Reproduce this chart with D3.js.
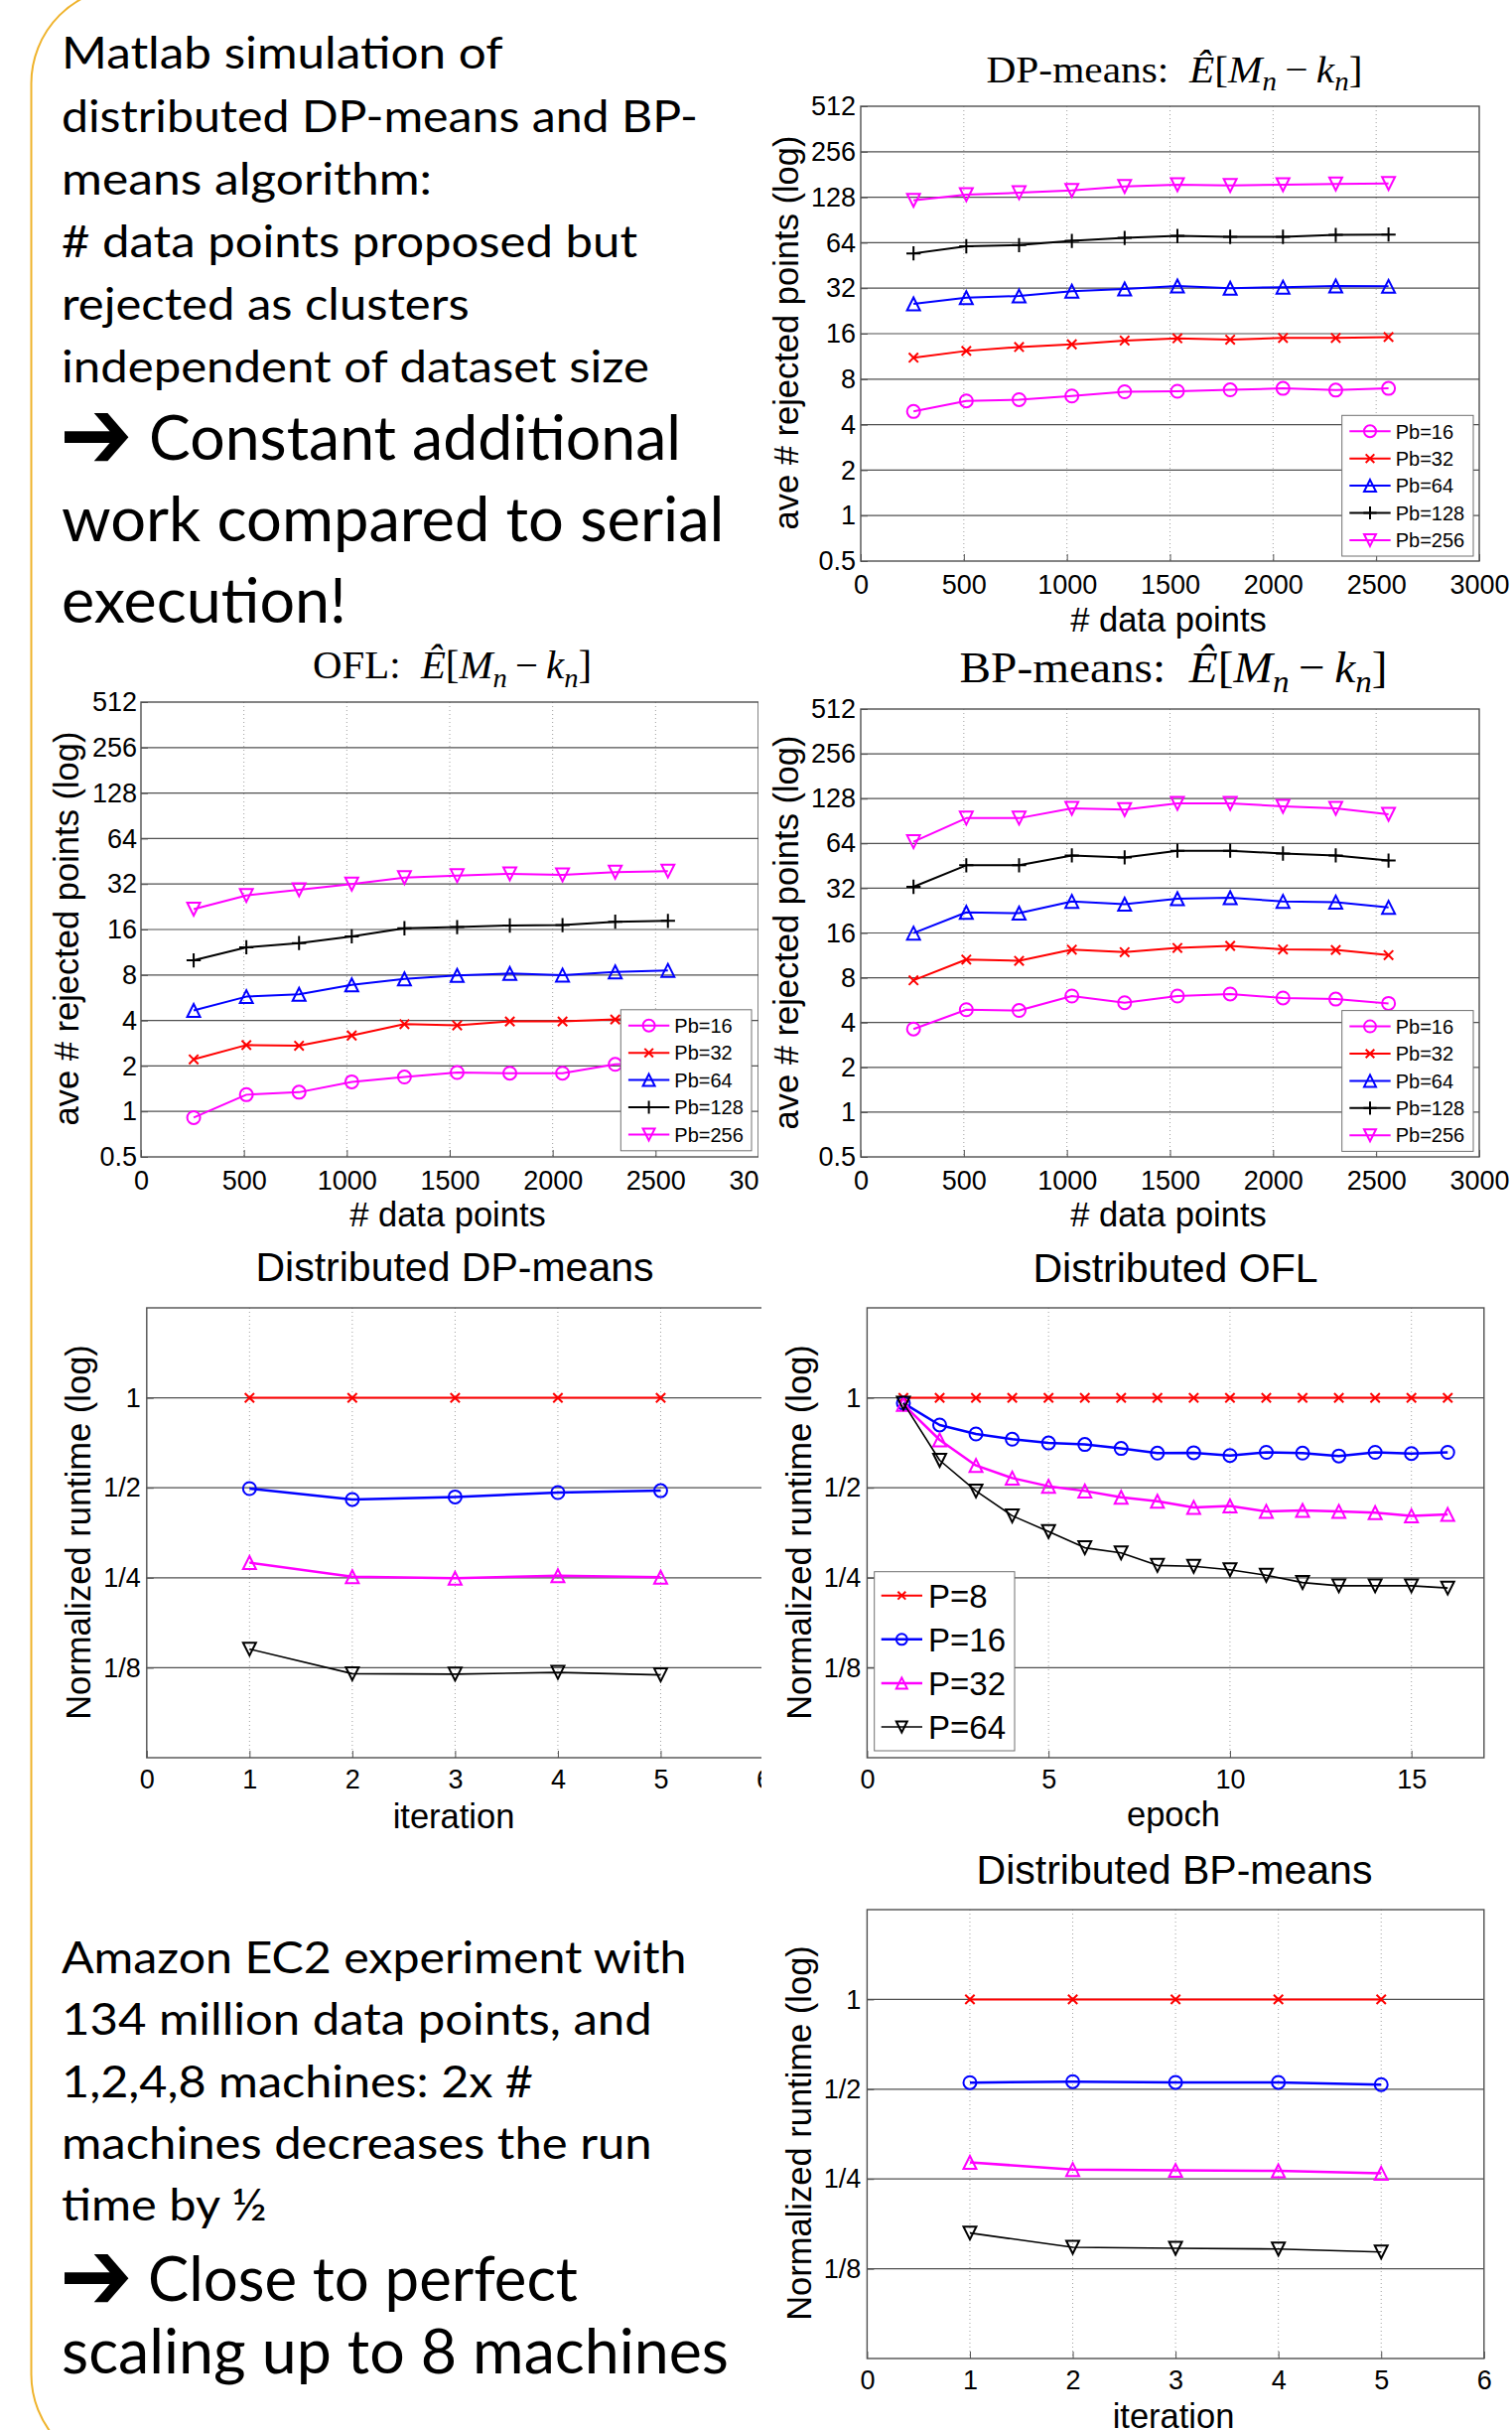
<!DOCTYPE html>
<html>
<head>
<meta charset="utf-8">
<script src="https://cdn.jsdelivr.net/npm/d3@7"></script>
<style>
body { margin: 0; background: #fff; }
svg { display: block; }
</style>
</head>
<body>
<div id="chart"></div>
<script>
// ---- data: rejected points vs dataset size ----
var nPoints = [256, 512, 768, 1024, 1280, 1536, 1792, 2048, 2304, 2560];
var pbNames = ["Pb=16", "Pb=32", "Pb=64", "Pb=128", "Pb=256"];

var dpPb16  = [4.89, 5.74, 5.85, 6.19, 6.6, 6.65, 6.8, 6.95, 6.77, 6.95];
var dpPb32  = [11.1, 12.3, 13.05, 13.6, 14.4, 14.9, 14.6, 15.0, 15.0, 15.2];
var dpPb64  = [25.2, 27.7, 28.4, 30.6, 31.6, 33.1, 32.0, 32.5, 33.1, 32.9];
var dpPb128 = [54.4, 60.6, 61.7, 65.8, 68.8, 71.0, 70.0, 70.0, 72.0, 72.5];
var dpPb256 = [122, 133, 137, 142, 151, 155, 153, 155, 156.6, 158];

var oflPb16  = [0.91, 1.29, 1.34, 1.57, 1.69, 1.81, 1.79, 1.79, 2.05, 2.1];
var oflPb32  = [2.21, 2.75, 2.72, 3.18, 3.78, 3.71, 3.94, 3.94, 4.06, 4.11];
var oflPb64  = [4.66, 5.75, 5.96, 6.88, 7.53, 7.94, 8.18, 7.99, 8.38, 8.58];
var oflPb128 = [10.0, 12.2, 13.0, 14.4, 16.3, 16.6, 17.0, 17.1, 18.0, 18.25];
var oflPb256 = [21.8, 26.9, 29.3, 32.0, 35.3, 36.3, 37.4, 36.8, 38.4, 39.0];

var bpPb16  = [3.62, 4.88, 4.82, 6.03, 5.44, 6.03, 6.22, 5.85, 5.75, 5.38];
var bpPb32  = [7.69, 10.6, 10.4, 12.36, 11.9, 12.7, 13.1, 12.4, 12.3, 11.35];
var bpPb64  = [15.96, 22.0, 21.75, 26.1, 25.0, 27.2, 27.6, 26.1, 25.8, 23.8];
var bpPb128 = [32.7, 45.6, 45.6, 53.1, 51.5, 57.1, 57.1, 54.7, 53.1, 49.1];
var bpPb256 = [65.7, 94.6, 94.6, 110, 108, 119, 119, 113.5, 110, 100.5];

// ---- data: normalized runtime ----
var pNames = ["P=8", "P=16", "P=32", "P=64"];
var iterations = [1, 2, 3, 4, 5];
var epochs = [1, 2, 3, 4, 5, 6, 7, 8, 9, 10, 11, 12, 13, 14, 15, 16];

var dpRunP8  = [1, 1, 1, 1, 1];
var dpRunP16 = [0.497, 0.457, 0.466, 0.482, 0.489];
var dpRunP32 = [0.281, 0.252, 0.249, 0.254, 0.251];
var dpRunP64 = [0.1443, 0.1194, 0.119, 0.1206, 0.1183];

var oflRunP8  = [1, 1, 1, 1, 1, 1, 1, 1, 1, 1, 1, 1, 1, 1, 1, 1];
var oflRunP16 = [0.96, 0.811, 0.757, 0.727, 0.706, 0.698, 0.677, 0.653, 0.655, 0.641, 0.657, 0.653, 0.639, 0.657, 0.651, 0.657];
var oflRunP32 = [0.95, 0.723, 0.594, 0.539, 0.506, 0.488, 0.465, 0.451, 0.430, 0.435, 0.417, 0.420, 0.417, 0.413, 0.403, 0.407];
var oflRunP64 = [0.96, 0.618, 0.488, 0.403, 0.357, 0.315, 0.303, 0.275, 0.273, 0.266, 0.255, 0.241, 0.235, 0.235, 0.235, 0.231];

var bpRunP8  = [1, 1, 1, 1, 1];
var bpRunP16 = [0.526, 0.530, 0.527, 0.527, 0.518];
var bpRunP32 = [0.284, 0.269, 0.267, 0.266, 0.261];
var bpRunP64 = [0.1647, 0.1475, 0.1464, 0.1455, 0.1423];

// ---- ticks ----
var logTicks = [0.5, 1, 2, 4, 8, 16, 32, 64, 128, 256, 512];
var logGrid = [1, 2, 4, 8, 16, 32, 64, 128, 256];
var sizeTicks = [0, 500, 1000, 1500, 2000, 2500, 3000];
var sizeGrid = [500, 1000, 1500, 2000, 2500];
var runTicks = [0.125, 0.25, 0.5, 1];
var runTickLabels = ["1/8", "1/4", "1/2", "1"];
var iterTicks = [0, 1, 2, 3, 4, 5, 6];
var epochTicks = [0, 5, 10, 15];

// ---- slide text ----
var noteTop = ["Matlab simulation of", "distributed DP-means and BP-", "means algorithm:",
               "# data points proposed but", "rejected as clusters", "independent of dataset size"];
var noteTopBig = ["Constant additional", "work compared to serial", "execution!"];
var noteBottom = ["Amazon EC2 experiment with", "134 million data points, and", "1,2,4,8 machines: 2x #",
                  "machines decreases the run", "time by \u00bd"];
var noteBottomBig = ["Close to perfect", "scaling up to 8 machines"];

var pbStyles = [
    { color: "#ff00ff", marker: "circle", width: 2 },
    { color: "#ff0000", marker: "x", width: 2 },
    { color: "#0000ff", marker: "triUp", width: 2 },
    { color: "#000000", marker: "plus", width: 2 },
    { color: "#ff00ff", marker: "triDown", width: 2 }
];
var runStyles = [
    { color: "#ff0000", marker: "x", width: 2 },
    { color: "#0000ff", marker: "circle", width: 2.5 },
    { color: "#ff00ff", marker: "triUp", width: 2.5 },
    { color: "#000000", marker: "triDown", width: 1.6 }
];

var SANS = "'Liberation Sans', Arial, Helvetica, sans-serif";
var SERIF = "'Liberation Serif', 'Times New Roman', serif";
var NOTE = "Lato, 'Open Sans', sans-serif";

var svg = d3.select("#chart").append("svg").attr("width", 1523).attr("height", 2447);
svg.append("rect").attr("width", 1523).attr("height", 2447).attr("fill", "#fff");

// rounded frame, only its left side shows
svg.append("rect")
    .attr("x", 31.5).attr("y", -13).attr("width", 2000).attr("height", 2501).attr("rx", 97)
    .attr("fill", "none").attr("stroke", "#efb32c").attr("stroke-width", 2);

function noteLine(x, y, str, size, len) {
    svg.append("text")
        .attr("x", x).attr("y", y)
        .attr("textLength", len).attr("lengthAdjust", "spacingAndGlyphs")
        .style("font-family", NOTE).style("font-size", size + "px")
        .text(str);
}
function arrow(x, y) {
    svg.append("text")
        .attr("transform", "translate(" + x + "," + y + ") scale(1,1.15)")
        .style("font-family", "'DejaVu Sans'").style("font-size", "88px").style("font-weight", "bold")
        .text("\u2794");
}

var topY = [69.4, 132.6, 195.7, 258.7, 322, 385];
var topW = [444.5, 641, 373, 580, 410.6, 592];
noteTop.forEach(function (s, i) { noteLine(62, topY[i], s, 44, topW[i]); });
arrow(60, 472);
noteLine(150, 463, noteTopBig[0], 61, 536);
noteLine(62, 545, noteTopBig[1], 61, 667.5);
noteLine(62, 627, noteTopBig[2], 61, 287);

var botW = [629.5, 594.7, 475, 594.7, 206.7];
noteBottom.forEach(function (s, i) { noteLine(62, 1987 + 62.25 * i, s, 44, botW[i]); });
arrow(60, 2326);
noteLine(149, 2317, noteBottomBig[0], 61, 433);
noteLine(62, 2390, noteBottomBig[1], 61, 672);

function markerPath(type, s) {
    var h = s / 2;
    switch (type) {
        case "circle": return "M" + h + ",0A" + h + "," + h + " 0 1,1 " + (-h) + ",0A" + h + "," + h + " 0 1,1 " + h + ",0Z";
        case "x": var a = s * 0.36; return "M" + (-a) + "," + (-a) + "L" + a + "," + a + "M" + (-a) + "," + a + "L" + a + "," + (-a);
        case "plus": var b = s * 0.55; return "M" + (-b) + ",0L" + b + ",0M0," + (-b) + "L0," + b;
        case "triUp": return "M0," + (-h) + "L" + h + "," + h + "L" + (-h) + "," + h + "Z";
        case "triDown": return "M0," + h + "L" + h + "," + (-h) + "L" + (-h) + "," + (-h) + "Z";
    }
}

function mathTitle(g, cx, cy, prefix, size, len) {
    var sub = size * 0.7, shift = size * 0.22;
    var t = g.append("text").attr("x", cx).attr("y", cy).attr("text-anchor", "middle")
        .attr("textLength", len).attr("lengthAdjust", "spacingAndGlyphs")
        .style("font-family", SERIF).style("font-size", size + "px");
    t.append("tspan").text(prefix + "\u2002");
    t.append("tspan").style("font-style", "italic").text("\u00ca");
    t.append("tspan").text("[");
    t.append("tspan").style("font-style", "italic").text("M");
    t.append("tspan").style("font-style", "italic").style("font-size", sub + "px").attr("dy", shift).text("n");
    t.append("tspan").attr("dy", -shift).text("\u2009\u2212\u2009");
    t.append("tspan").style("font-style", "italic").text("k");
    t.append("tspan").style("font-style", "italic").style("font-size", sub + "px").attr("dy", shift).text("n");
    t.append("tspan").attr("dy", -shift).text("]");
}

function drawPanel(c) {
    var g = svg.append("g");
    if (c.bg) {
        g.append("rect").attr("x", c.bg[0]).attr("y", c.bg[1])
            .attr("width", c.bg[2] - c.bg[0]).attr("height", c.bg[3] - c.bg[1]).attr("fill", "#fff");
    }
    var x = d3.scaleLinear().domain(c.xDomain).range([c.left, c.right]);
    var y = d3.scaleLog().base(2).domain(c.yDomain).range([c.bottom, c.top]);

    // grid
    g.selectAll(null).data(c.xGrid).enter().append("line")
        .attr("x1", function (d) { return x(d); }).attr("x2", function (d) { return x(d); })
        .attr("y1", c.top).attr("y2", c.bottom)
        .attr("stroke", "#a0a0a0").attr("stroke-width", 1).attr("stroke-dasharray", "1,3");
    g.selectAll(null).data(c.yGrid).enter().append("line")
        .attr("x1", c.left).attr("x2", c.right)
        .attr("y1", function (d) { return y(d); }).attr("y2", function (d) { return y(d); })
        .attr("stroke", "#505050").attr("stroke-width", 1.2);

    // axes
    var gx = g.append("g").attr("transform", "translate(0," + c.bottom + ")")
        .call(d3.axisBottom(x).tickValues(c.xTicks).tickFormat(d3.format("d"))
            .tickSizeInner(-7).tickSizeOuter(0));
    var gy = g.append("g").attr("transform", "translate(" + c.left + ",0)")
        .call(d3.axisLeft(y).tickValues(c.yTicks).tickFormat(c.yFormat)
            .tickSizeInner(-7).tickSizeOuter(0).tickPadding(c.yPad));
    [gx, gy].forEach(function (a) {
        a.attr("font-family", SANS).attr("font-size", 27).attr("color", "#000");
        a.select(".domain").remove();
        a.selectAll(".tick line").attr("stroke", "#505050");
    });
    gx.selectAll("text").attr("y", c.xTickY).attr("dy", null);

    // box
    g.append("rect").attr("x", c.left).attr("y", c.top)
        .attr("width", c.right - c.left).attr("height", c.bottom - c.top)
        .attr("fill", "none").attr("stroke", "#505050").attr("stroke-width", 1.4);

    // series
    var line = d3.line().x(function (d) { return x(d[0]); }).y(function (d) { return y(d[1]); });
    c.series.forEach(function (vals, i) {
        var st = c.styles[i];
        var pts = c.xs.map(function (xv, j) { return [xv, vals[j]]; });
        g.append("path").attr("d", line(pts)).attr("fill", "none")
            .attr("stroke", st.color).attr("stroke-width", st.width).attr("stroke-linejoin", "round");
        g.selectAll(null).data(pts).enter().append("path")
            .attr("transform", function (d) { return "translate(" + x(d[0]) + "," + y(d[1]) + ")"; })
            .attr("d", markerPath(st.marker, c.markerSize))
            .attr("fill", "none").attr("stroke", st.color).attr("stroke-width", 2);
    });

    // legend
    if (c.legend) {
        var L = c.legend;
        g.append("rect").attr("x", L.x0).attr("y", L.y0).attr("width", L.x1 - L.x0).attr("height", L.y1 - L.y0)
            .attr("fill", "#fff").attr("stroke", "#707070").attr("stroke-width", 1);
        c.names.forEach(function (nm, i) {
            var st = c.styles[i], ry = L.y0 + L.first + L.step * i;
            g.append("line").attr("x1", L.lx0).attr("x2", L.lx1).attr("y1", ry).attr("y2", ry)
                .attr("stroke", st.color).attr("stroke-width", st.width);
            g.append("path").attr("transform", "translate(" + L.mx + "," + ry + ")")
                .attr("d", markerPath(st.marker, L.ms))
                .attr("fill", "none").attr("stroke", st.color).attr("stroke-width", 2);
            g.append("text").attr("x", L.tx).attr("y", ry + L.tdy)
                .style("font-family", SANS).style("font-size", L.font + "px").text(nm);
        });
    }

    // titles and labels
    if (c.math) {
        mathTitle(g, c.title[0], c.title[1], c.math, c.title[2], c.title[3]);
    } else {
        g.append("text").attr("x", c.title[0]).attr("y", c.title[1]).attr("text-anchor", "middle")
            .style("font-family", SANS).style("font-size", c.title[2] + "px").text(c.titleText);
    }
    g.append("text").attr("x", c.xLabel[0]).attr("y", c.xLabel[1]).attr("text-anchor", "middle")
        .style("font-family", SANS).style("font-size", "34.5px").text(c.xLabelText);
    g.append("text").attr("text-anchor", "middle")
        .attr("transform", "translate(" + c.yLabel[0] + "," + c.yLabel[1] + ") rotate(-90)")
        .style("font-family", SANS).style("font-size", "34.5px").text(c.yLabelText);
}

function logFmt(d) { return d === 0.5 ? "0.5" : String(d); }
function runFmt(d) { return runTickLabels[runTicks.indexOf(d)]; }

var sizeLegend = function (x0, y0, x1, y1) {
    return { x0: x0, y0: y0, x1: x1, y1: y1, first: 16, step: 27.4,
             lx0: x0 + 7.6, lx1: x0 + 49, mx: x0 + 28.3, tx: x0 + 54, tdy: 7.2, font: 20, ms: 12 };
};

var common = {
    xDomain: [0, 3000], yDomain: [0.5, 512], xTicks: sizeTicks, xGrid: sizeGrid,
    yTicks: logTicks, yGrid: logGrid, yFormat: logFmt, yPad: 5, xTickY: 32.6,
    xs: nPoints, names: pbNames, styles: pbStyles, markerSize: 13,
    xLabelText: "# data points", yLabelText: "ave # rejected points (log)"
};

// left column first, right column panels paint a white image background over overlaps
drawPanel(Object.assign({}, common, {
    left: 867, right: 1490, top: 107, bottom: 565,
    series: [dpPb16, dpPb32, dpPb64, dpPb128, dpPb256],
    legend: sizeLegend(1351.7, 418.3, 1484, 560),
    math: "DP-means:", title: [1183, 83, 38, 379],
    xLabel: [1177, 636], yLabel: [804, 335]
}));

drawPanel(Object.assign({}, common, {
    left: 142, right: 764, top: 707, bottom: 1165, yPad: 4,
    series: [oflPb16, oflPb32, oflPb64, oflPb128, oflPb256],
    legend: sizeLegend(625.3, 1016.8, 757, 1158.8),
    math: "OFL:", title: [455.6, 683, 39, 281],
    xLabel: [451, 1235], yLabel: [79, 935]
}));

var runCommon = {
    yDomain: [1 / 16, 2], yTicks: runTicks, yGrid: runTicks, yFormat: runFmt, yPad: 6, xTickY: 31,
    names: pNames, styles: runStyles, markerSize: 13, yLabelText: "Normalized runtime (log)"
};

drawPanel(Object.assign({}, runCommon, {
    left: 147.8, right: 769, top: 1317, bottom: 1770,
    xDomain: [0, 6], xTicks: iterTicks, xGrid: [1, 2, 3, 4, 5], xs: iterations,
    series: [dpRunP8, dpRunP16, dpRunP32, dpRunP64],
    titleText: "Distributed DP-means", title: [458, 1290, 41],
    xLabelText: "iteration", xLabel: [457, 1841], yLabel: [91, 1543]
}));

drawPanel(Object.assign({}, common, {
    bg: [764, 650, 1523, 1250],
    left: 867, right: 1490, top: 714, bottom: 1165,
    series: [bpPb16, bpPb32, bpPb64, bpPb128, bpPb256],
    legend: sizeLegend(1351.7, 1017.6, 1484, 1159.4),
    math: "BP-means:", title: [1182, 687, 44, 431],
    xLabel: [1177, 1235], yLabel: [804, 939]
}));

drawPanel(Object.assign({}, runCommon, {
    bg: [767, 1250, 1523, 1860],
    left: 873.4, right: 1494.8, top: 1317, bottom: 1770,
    xDomain: [0, 17], xTicks: epochTicks, xGrid: [5, 10, 15], xs: epochs,
    series: [oflRunP8, oflRunP16, oflRunP32, oflRunP64],
    legend: { x0: 880.7, y0: 1582.7, x1: 1022, y1: 1763, first: 24, step: 44.1,
              lx0: 887.7, lx1: 929, mx: 908.3, tx: 935, tdy: 12, font: 33, ms: 11 },
    titleText: "Distributed OFL", title: [1184, 1291, 41],
    xLabelText: "epoch", xLabel: [1182, 1839], yLabel: [817, 1543]
}));

drawPanel(Object.assign({}, runCommon, {
    left: 873.4, right: 1494.8, top: 1923, bottom: 2375,
    xDomain: [0, 6], xTicks: iterTicks, xGrid: [1, 2, 3, 4, 5], xs: iterations,
    series: [bpRunP8, bpRunP16, bpRunP32, bpRunP64],
    titleText: "Distributed BP-means", title: [1183, 1897, 41],
    xLabelText: "iteration", xLabel: [1182, 2445], yLabel: [817, 2148]
}));
</script>
</body>
</html>
